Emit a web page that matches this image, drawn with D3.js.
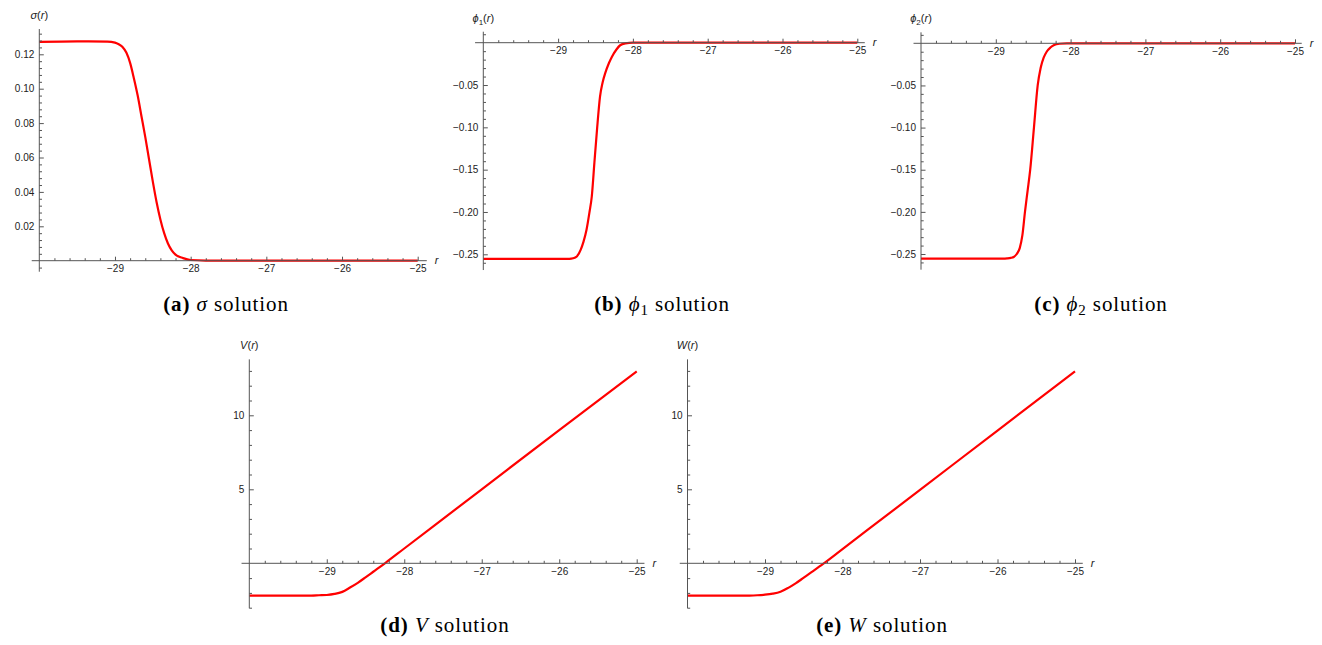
<!DOCTYPE html>
<html>
<head>
<meta charset="utf-8">
<script src="https://cdn.jsdelivr.net/npm/d3@7"></script>
<style>
  body { margin: 0; background: #fff; }
  svg { display: block; }
  .tick text { font-family: "Liberation Sans", Arial, sans-serif; font-size: 10px; fill: #222; }
  .axlabel { font-family: "Liberation Sans", Arial, sans-serif; font-size: 11px; fill: #222; }
  .caption { font-family: "Liberation Serif", "Times New Roman", serif; font-size: 21px; fill: #000; letter-spacing: 0.9px; }
</style>
</head>
<body>
<svg id="fig" width="1322" height="645"></svg>
<script>
// ---- sampled solutions over r in [-30, -25] ----
const rSigma = [-30, -29.5, -29.1, -29.0, -28.95, -28.9, -28.85, -28.8, -28.75, -28.7, -28.65, -28.6,
                -28.55, -28.5, -28.45, -28.4, -28.35, -28.3, -28.25, -28.2, -28.1, -28.0, -27.8, -27, -26, -25];
const sigma  = [0.1272, 0.1275, 0.1274, 0.1268, 0.1258, 0.1243, 0.1210, 0.1150, 0.1060, 0.0960, 0.0840, 0.0720,
                0.0590, 0.0460, 0.0340, 0.0240, 0.0160, 0.0100, 0.0060, 0.0035, 0.0015, 0.0004, 0.0001, 0, 0, 0];

const rPhi1 = [-30, -29, -28.85, -28.8, -28.75, -28.7, -28.66, -28.62, -28.58, -28.55, -28.515, -28.48,
               -28.44, -28.405, -28.37, -28.32, -28.28, -28.22, -28.17, -28.1, -28.0, -27, -26, -25];
const phi1  = [-0.2555, -0.2555, -0.2553, -0.2547, -0.2525, -0.2450, -0.2350, -0.2210, -0.2000, -0.1820, -0.1420, -0.1030,
               -0.0640, -0.0470, -0.0360, -0.0240, -0.0165, -0.0080, -0.0030, -0.0008, 0, 0, 0, 0];

const rPhi2 = [-30, -29, -28.9, -28.85, -28.8, -28.76, -28.72, -28.68, -28.645, -28.61, -28.575, -28.54,
               -28.49, -28.44, -28.40, -28.36, -28.32, -28.27, -28.22, -28.15, -28.05, -27, -26, -25];
const phi2  = [-0.2556, -0.2556, -0.2555, -0.2552, -0.2546, -0.2535, -0.2500, -0.2430, -0.2280, -0.2000, -0.1750, -0.1500,
               -0.1000, -0.0500, -0.0290, -0.0170, -0.0100, -0.0050, -0.0020, -0.0005, 0, 0, 0, 0];

const rV = [-30, -29.4, -29.2, -29.1, -29.0, -28.9, -28.8, -28.7, -28.6, -28.5, -28.4, -28.25, -28.0, -27, -26, -25];
const V  = [-2.19, -2.19, -2.18, -2.16, -2.14, -2.07, -1.93, -1.64, -1.32, -0.95, -0.57, 0.0, 1.0, 5.0, 9.0, 12.97];

const rW = [-30, -29.4, -29.2, -29.1, -29.0, -28.9, -28.8, -28.7, -28.6, -28.5, -28.4, -28.25, -28.0, -27, -26, -25];
const W  = [-2.19, -2.19, -2.18, -2.16, -2.12, -2.05, -1.92, -1.66, -1.34, -0.97, -0.60, -0.04, 0.96, 4.96, 8.97, 12.96];

// ---- tick values ----
const xMajor = [-29, -28, -27, -26, -25];
const xMinor = d3.range(-29.8, -24.99, 0.2).map(v => +v.toFixed(1)).filter(v => Math.abs(v - Math.round(v)) > 1e-6);
const sigmaMajor = [0.02, 0.04, 0.06, 0.08, 0.10, 0.12];
const sigmaMinor = d3.range(-1, 34).map(i => +(i * 0.004).toFixed(3)).filter(v => v !== 0 && Math.abs(v / 0.02 - Math.round(v / 0.02)) > 1e-6);
const phiMajor = [-0.05, -0.10, -0.15, -0.20, -0.25];
const phiMinor = d3.range(-26, 2).map(i => +(i * 0.01).toFixed(2)).filter(v => v !== 0 && Math.abs(v / 0.05 - Math.round(v / 0.05)) > 1e-6);
const potMajor = [5, 10];
const potMinor = d3.range(-3, 14).filter(v => v !== 0 && v % 5 !== 0);

const svg = d3.select("#fig");
const AXIS = "#555";
const RED = "#ff0000";

const panels = [
  { r: rSigma, v: sigma, x0: 39.3, x1: 417.7, yDom: [0, 0.12], yPix: [260.7, 54.3],
    xExt: [-30.1, -24.88], yExt: [-0.0064, 0.1347], yMajor: sigmaMajor, yMinor: sigmaMinor, fmt: d3.format(".2f"),
    sym: "σ", sub: null, cap: { x: 226, y: 311, tag: "(a)", sym: "σ", sub: null } },
  { r: rPhi1, v: phi1, x0: 483.3, x1: 857.3, yDom: [0, -0.25], yPix: [42.7, 254.3],
    xExt: [-30.11, -24.9], yExt: [-0.2686, 0.013], yMajor: phiMajor, yMinor: phiMinor, fmt: d3.format(".2f"),
    sym: "ϕ", sub: "1", cap: { x: 662, y: 311, tag: "(b)", sym: "ϕ", sub: "1" } },
  { r: rPhi2, v: phi2, x0: 921, x1: 1295, yDom: [0, -0.25], yPix: [43.3, 254],
    xExt: [-30.1, -24.91], yExt: [-0.2686, 0.013], yMajor: phiMajor, yMinor: phiMinor, fmt: d3.format(".2f"),
    sym: "ϕ", sub: "2", cap: { x: 1101, y: 311, tag: "(c)", sym: "ϕ", sub: "2" } },
  { r: rV, v: V, x0: 249.3, x1: 636.7, yDom: [0, 10], yPix: [563.3, 415.3],
    xExt: [-30.1, -24.9], yExt: [-3.04, 13.78], yMajor: potMajor, yMinor: potMinor, fmt: d3.format("d"),
    sym: "V", sub: null, cap: { x: 445, y: 632, tag: "(d)", sym: "V", sub: null } },
  { r: rW, v: W, x0: 687.5, x1: 1075, yDom: [0, 10], yPix: [563.3, 415.3],
    xExt: [-30.1, -24.9], yExt: [-3.04, 13.78], yMajor: potMajor, yMinor: potMinor, fmt: d3.format("d"),
    sym: "W", sub: null, cap: { x: 882, y: 632, tag: "(e)", sym: "W", sub: null } }
];

function drawPanel(p) {
  const x = d3.scaleLinear().domain([-30, -25]).range([p.x0, p.x1]);
  const y = d3.scaleLinear().domain(p.yDom).range(p.yPix);
  const g = svg.append("g");
  const y0 = y(0), xLeft = x(-30);

  // solution curve
  g.append("path")
    .datum(d3.zip(p.r, p.v))
    .attr("fill", "none")
    .attr("stroke", RED)
    .attr("stroke-width", 2.2)
    .attr("stroke-linejoin", "round")
    .attr("d", d3.line().x(d => x(d[0])).y(d => y(d[1])).curve(d3.curveMonotoneX));

  // axis lines
  g.append("line").attr("x1", x(p.xExt[0])).attr("x2", x(p.xExt[1])).attr("y1", y0).attr("y2", y0)
    .attr("stroke", AXIS).attr("stroke-width", 1);
  g.append("line").attr("x1", xLeft).attr("x2", xLeft).attr("y1", y(p.yExt[0])).attr("y2", y(p.yExt[1]))
    .attr("stroke", AXIS).attr("stroke-width", 1);

  // x ticks (pointing up, labels below)
  const gx = g.append("g").attr("transform", `translate(0,${y0})`);
  gx.call(d3.axisBottom(x).tickValues(xMajor).tickSizeInner(-4).tickSizeOuter(0).tickPadding(4.5).tickFormat(d3.format("d")));
  const gxm = g.append("g").attr("transform", `translate(0,${y0})`);
  gxm.call(d3.axisBottom(x).tickValues(xMinor).tickSizeInner(-2.5).tickSizeOuter(0).tickFormat(""));

  // y ticks (pointing right, labels left)
  const gy = g.append("g").attr("transform", `translate(${xLeft},0)`);
  gy.call(d3.axisLeft(y).tickValues(p.yMajor).tickSizeInner(-4.5).tickSizeOuter(0).tickPadding(5).tickFormat(p.fmt));
  const gym = g.append("g").attr("transform", `translate(${xLeft},0)`);
  gym.call(d3.axisLeft(y).tickValues(p.yMinor).tickSizeInner(-2.7).tickSizeOuter(0).tickFormat(""));

  [gx, gxm, gy, gym].forEach(a => {
    a.select(".domain").remove();
    a.selectAll(".tick line").attr("stroke", AXIS);
  });

  // axis titles
  g.append("text").attr("class", "axlabel")
    .attr("x", x(p.xExt[1]) + 8).attr("y", y0).attr("dy", "0.32em")
    .style("font-style", "italic").text("r");

  const t = g.append("text").attr("class", "axlabel")
    .attr("x", xLeft).attr("y", y(p.yExt[1]) - 10).attr("text-anchor", "middle");
  t.append("tspan").style("font-style", "italic").text(p.sym);
  if (p.sub) t.append("tspan").attr("dy", 3).style("font-size", "8px").text(p.sub);
  t.append("tspan").attr("dy", p.sub ? -3 : 0).text("(");
  t.append("tspan").style("font-style", "italic").text("r");
  t.append("tspan").text(")");

  // caption
  const c = svg.append("text").attr("class", "caption")
    .attr("x", p.cap.x).attr("y", p.cap.y).attr("text-anchor", "middle");
  c.append("tspan").style("font-weight", "bold").text(p.cap.tag + " ");
  c.append("tspan").style("font-style", "italic").text(p.cap.sym);
  if (p.cap.sub) c.append("tspan").attr("dy", 4).style("font-size", "15px").text(p.cap.sub);
  c.append("tspan").attr("dy", p.cap.sub ? -4 : 0).text(" solution");
}

panels.forEach(drawPanel);
</script>
</body>
</html>
